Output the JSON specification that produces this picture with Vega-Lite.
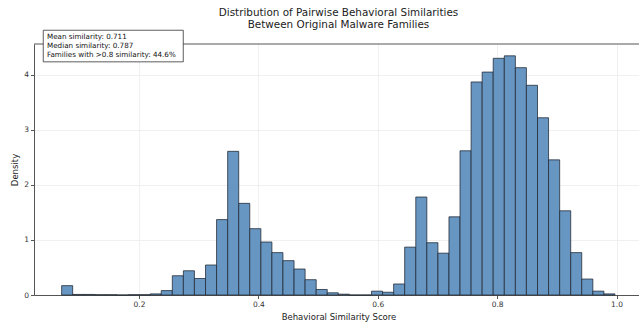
{
  "$schema": "https://vega.github.io/schema/vega-lite/v6.json",
  "width": 605,
  "height": 251,
  "autosize": {"type": "none"},
  "padding": {"left": 34, "top": 44, "right": 0, "bottom": 28},
  "background": "white",
  "config": {
    "font": "DejaVu Sans",
    "view": {"stroke": null},
    "axis": {
      "labelFont": "DejaVu Sans",
      "titleFont": "DejaVu Sans",
      "labelFontSize": 7.5,
      "titleFontSize": 8.5,
      "titleFontWeight": "normal",
      "labelColor": "#333333",
      "titleColor": "#222222",
      "gridColor": "#ececec",
      "gridWidth": 0.8,
      "tickColor": "#555555",
      "tickSize": 3.5,
      "domainColor": "#555555",
      "domainWidth": 1
    }
  },
  "title": {
    "text": ["Distribution of Pairwise Behavioral Similarities", "Between Original Malware Families"],
    "font": "DejaVu Sans",
    "fontSize": 10.4,
    "fontWeight": "normal",
    "color": "#222222",
    "anchor": "middle",
    "dx": 2,
    "dy": 13,
    "offset": 12,
    "lineHeight": 12
  },
  "layer": [
    {
      "data": {"values": [
        {"bin_start": 0.0705, "bin_end": 0.0890, "density": 0.17},
        {"bin_start": 0.0890, "bin_end": 0.1076, "density": 0.01},
        {"bin_start": 0.1076, "bin_end": 0.1261, "density": 0.01},
        {"bin_start": 0.1261, "bin_end": 0.1447, "density": 0.005},
        {"bin_start": 0.1447, "bin_end": 0.1632, "density": 0.005},
        {"bin_start": 0.1632, "bin_end": 0.1817, "density": 0.0},
        {"bin_start": 0.1817, "bin_end": 0.2003, "density": 0.005},
        {"bin_start": 0.2003, "bin_end": 0.2188, "density": 0.005},
        {"bin_start": 0.2188, "bin_end": 0.2373, "density": 0.02},
        {"bin_start": 0.2373, "bin_end": 0.2559, "density": 0.08},
        {"bin_start": 0.2559, "bin_end": 0.2744, "density": 0.35},
        {"bin_start": 0.2744, "bin_end": 0.2929, "density": 0.44},
        {"bin_start": 0.2929, "bin_end": 0.3115, "density": 0.30},
        {"bin_start": 0.3115, "bin_end": 0.3300, "density": 0.545},
        {"bin_start": 0.3300, "bin_end": 0.3486, "density": 1.37},
        {"bin_start": 0.3486, "bin_end": 0.3671, "density": 2.61},
        {"bin_start": 0.3671, "bin_end": 0.3856, "density": 1.665},
        {"bin_start": 0.3856, "bin_end": 0.4042, "density": 1.205},
        {"bin_start": 0.4042, "bin_end": 0.4227, "density": 0.963},
        {"bin_start": 0.4227, "bin_end": 0.4412, "density": 0.77},
        {"bin_start": 0.4412, "bin_end": 0.4598, "density": 0.624},
        {"bin_start": 0.4598, "bin_end": 0.4783, "density": 0.472},
        {"bin_start": 0.4783, "bin_end": 0.4969, "density": 0.278},
        {"bin_start": 0.4969, "bin_end": 0.5154, "density": 0.10},
        {"bin_start": 0.5154, "bin_end": 0.5339, "density": 0.04},
        {"bin_start": 0.5339, "bin_end": 0.5525, "density": 0.015},
        {"bin_start": 0.5525, "bin_end": 0.5710, "density": 0.0},
        {"bin_start": 0.5710, "bin_end": 0.5895, "density": 0.0},
        {"bin_start": 0.5895, "bin_end": 0.6081, "density": 0.07},
        {"bin_start": 0.6081, "bin_end": 0.6266, "density": 0.05},
        {"bin_start": 0.6266, "bin_end": 0.6451, "density": 0.20},
        {"bin_start": 0.6451, "bin_end": 0.6637, "density": 0.87},
        {"bin_start": 0.6637, "bin_end": 0.6822, "density": 1.78},
        {"bin_start": 0.6822, "bin_end": 0.7008, "density": 0.95},
        {"bin_start": 0.7008, "bin_end": 0.7193, "density": 0.76},
        {"bin_start": 0.7193, "bin_end": 0.7378, "density": 1.42},
        {"bin_start": 0.7378, "bin_end": 0.7564, "density": 2.62},
        {"bin_start": 0.7564, "bin_end": 0.7749, "density": 3.87},
        {"bin_start": 0.7749, "bin_end": 0.7934, "density": 4.05},
        {"bin_start": 0.7934, "bin_end": 0.8120, "density": 4.30},
        {"bin_start": 0.8120, "bin_end": 0.8305, "density": 4.345},
        {"bin_start": 0.8305, "bin_end": 0.8490, "density": 4.13},
        {"bin_start": 0.8490, "bin_end": 0.8676, "density": 3.81},
        {"bin_start": 0.8676, "bin_end": 0.8861, "density": 3.22},
        {"bin_start": 0.8861, "bin_end": 0.9047, "density": 2.455},
        {"bin_start": 0.9047, "bin_end": 0.9232, "density": 1.53},
        {"bin_start": 0.9232, "bin_end": 0.9417, "density": 0.77},
        {"bin_start": 0.9417, "bin_end": 0.9603, "density": 0.29},
        {"bin_start": 0.9603, "bin_end": 0.9788, "density": 0.07},
        {"bin_start": 0.9788, "bin_end": 0.9973, "density": 0.02}
      ]},
      "mark": {"type": "rect", "fill": "#6896c2", "stroke": "#1f2833", "strokeOpacity": 0.85, "strokeWidth": 0.9},
      "encoding": {
        "x": {
          "field": "bin_start", "type": "quantitative",
          "scale": {"domain": [0.0242, 1.0376], "nice": false, "zero": false},
          "axis": {"title": "Behavioral Similarity Score", "values": [0.2, 0.4, 0.6, 0.8, 1.0], "format": ".1f", "grid": true, "labelPadding": 2, "titlePadding": 4, "titleX": 304.5}
        },
        "x2": {"field": "bin_end"},
        "y": {
          "field": "density", "type": "quantitative",
          "scale": {"domain": [0, 4.56], "nice": false},
          "axis": {"title": "Density", "values": [0, 1, 2, 3, 4], "format": "d", "grid": true, "labelPadding": 2, "titlePadding": 4}
        },
        "y2": {"datum": 0}
      }
    },
    {
      "data": {"values": [{"edge": "top"}]},
      "mark": {"type": "rule", "color": "#555555", "strokeWidth": 1},
      "encoding": {"y": {"datum": 4.56}}
    },
    {
      "data": {"values": [{"note": "Mean similarity: 0.711\nMedian similarity: 0.787\nFamilies with >0.8 similarity: 44.6%"}]},
      "layer": [
        {
          "mark": {"type": "rect", "fill": "white", "stroke": "#333333", "strokeWidth": 0.8},
          "encoding": {
            "x": {"datum": 0.0397},
            "x2": {"datum": 0.2742},
            "y": {"datum": 4.81},
            "y2": {"datum": 4.236}
          }
        },
        {
          "mark": {"type": "text", "align": "left", "baseline": "alphabetic", "fontSize": 7.2, "lineHeight": 8.8, "lineBreak": "\n", "color": "#111111", "font": "DejaVu Sans"},
          "encoding": {
            "x": {"datum": 0.0459},
            "y": {"datum": 4.651},
            "text": {"field": "note", "type": "nominal"}
          }
        }
      ]
    }
  ]
}
